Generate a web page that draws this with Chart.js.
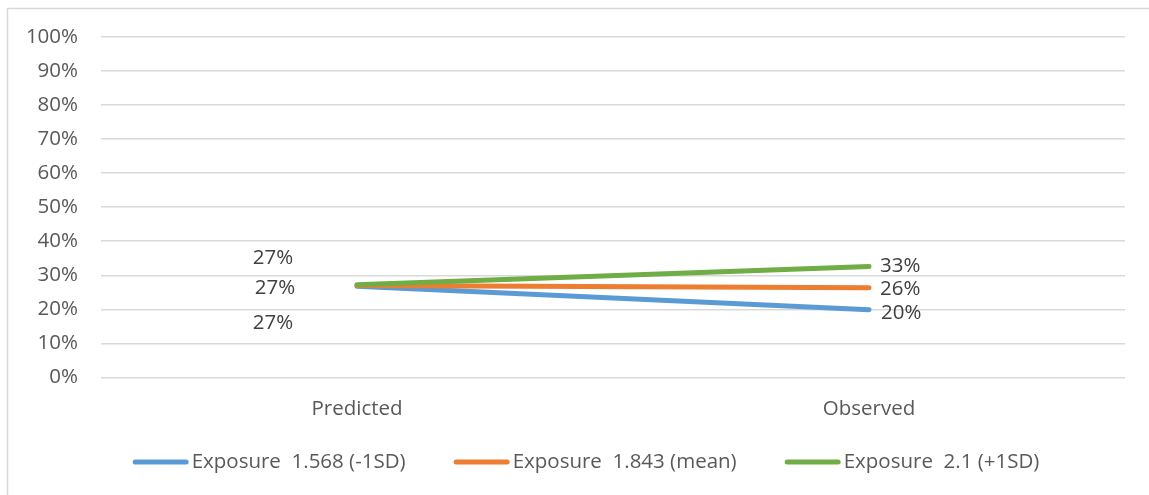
<!DOCTYPE html>
<html>
<head>
<meta charset="utf-8">
<style>
  html, body { margin: 0; padding: 0; background: #ffffff; }
  #wrap { position: relative; width: 1149px; height: 495px; }
</style>
<script src="https://cdn.jsdelivr.net/npm/chart.js@4/dist/chart.umd.min.js"></script>
</head>
<body>
<div id="wrap"><canvas id="chart" width="1149" height="495"></canvas></div>
<script>
// Categories and series values (fractions of 1)
const categories = ['Predicted', 'Observed'];
const lowExposure = [0.268, 0.199];   // Exposure 1.568 (-1SD)
const meanExposure = [0.270, 0.263];  // Exposure 1.843 (mean)
const highExposure = [0.272, 0.326];  // Exposure 2.1 (+1SD)
const seriesNames = ['Exposure  1.568 (-1SD)', 'Exposure  1.843 (mean)', 'Exposure  2.1 (+1SD)'];
const yTickValues = [0, 0.1, 0.2, 0.3, 0.4, 0.5, 0.6, 0.7, 0.8, 0.9, 1.0];

const FONT = '"Open Sans", "Liberation Sans", sans-serif';
const FONT_SIZE = 20.5;
const colors = ['#5B9BD5', '#ED7D31', '#70AD47'];

const pct = v => Math.round(v * 100) + '%';

// Label offsets per dataset for the first and last point
const labelOffsets = [
  [{ dx: -84, dy: 37, align: 'center' }, { dx: 12, dy: 3, align: 'left' }],
  [{ dx: -82, dy: 3, align: 'center' }, { dx: 11, dy: 1, align: 'left' }],
  [{ dx: -84, dy: -27, align: 'center' }, { dx: 11, dy: 0, align: 'left' }]
];

const frame = {
  id: 'frame',
  beforeDraw(chart) {
    const ctx = chart.ctx;
    ctx.save();
    ctx.strokeStyle = '#d9d9d9';
    ctx.lineWidth = 1.5;
    ctx.beginPath();
    ctx.moveTo(7.5, chart.height + 2);
    ctx.lineTo(7.5, 8.5);
    ctx.lineTo(chart.width + 2, 8.5);
    ctx.stroke();
    ctx.restore();
  }
};

const valueLabels = {
  id: 'valueLabels',
  afterDatasetsDraw(chart) {
    const ctx = chart.ctx;
    ctx.save();
    ctx.font = FONT_SIZE + 'px ' + FONT;
    ctx.fillStyle = '#404040';
    ctx.textBaseline = 'middle';
    chart.data.datasets.forEach((ds, di) => {
      const meta = chart.getDatasetMeta(di);
      meta.data.forEach((pt, i) => {
        const off = labelOffsets[di][i];
        ctx.textAlign = off.align;
        ctx.fillText(pct(ds.data[i]), pt.x + off.dx, pt.y + off.dy);
      });
    });
    ctx.restore();
  }
};

const bottomLegend = {
  id: 'bottomLegend',
  afterDraw(chart) {
    const ctx = chart.ctx;
    ctx.save();
    ctx.font = FONT_SIZE + 'px ' + FONT;
    ctx.textBaseline = 'middle';
    const lineLen = 56, gapText = 3, gapItem = 48, y = 462;
    const items = chart.data.datasets.map(ds => ({
      label: ds.label, color: ds.borderColor, w: ctx.measureText(ds.label).width
    }));
    const total = items.reduce((s, it) => s + lineLen + gapText + it.w, 0) + gapItem * (items.length - 1);
    let x = 586 - total / 2;
    items.forEach(it => {
      ctx.strokeStyle = it.color;
      ctx.lineWidth = 5;
      ctx.lineCap = 'round';
      ctx.beginPath();
      ctx.moveTo(x + 2.5, y);
      ctx.lineTo(x + lineLen - 2.5, y);
      ctx.stroke();
      ctx.fillStyle = '#595959';
      ctx.textAlign = 'left';
      ctx.fillText(it.label, x + lineLen + gapText, y);
      x += lineLen + gapText + it.w + gapItem;
    });
    ctx.restore();
  }
};

const makeSeries = (name, values, color, order) => ({
  label: name,
  data: values,
  borderColor: color,
  backgroundColor: color,
  borderWidth: 5,
  borderCapStyle: 'round',
  borderJoinStyle: 'round',
  pointRadius: 0,
  pointHoverRadius: 0,
  tension: 0,
  fill: false,
  order: order
});

new Chart(document.getElementById('chart'), {
  type: 'line',
  data: {
    labels: categories,
    datasets: [
      makeSeries(seriesNames[0], lowExposure, colors[0], 2),
      makeSeries(seriesNames[1], meanExposure, colors[1], 1),
      makeSeries(seriesNames[2], highExposure, colors[2], 0)
    ]
  },
  plugins: [frame, valueLabels, bottomLegend],
  options: {
    responsive: false,
    animation: false,
    devicePixelRatio: 1,
    layout: { padding: { top: 37, right: 24, bottom: 55, left: 0 } },
    plugins: {
      legend: { display: false },
      tooltip: { enabled: false },
      title: { display: false }
    },
    scales: {
      x: {
        offset: true,
        grid: { display: false, drawTicks: false },
        border: { display: false },
        ticks: {
          color: '#595959',
          font: { family: FONT, size: FONT_SIZE },
          padding: 19
        }
      },
      y: {
        min: 0,
        max: 1,
        afterFit(scale) { scale.width = 101; },
        afterBuildTicks(scale) { scale.ticks = yTickValues.map(v => ({ value: v })); },
        grid: { color: '#d9d9d9', lineWidth: 1.5, drawTicks: false },
        border: { display: false },
        ticks: {
          color: '#595959',
          font: { family: FONT, size: FONT_SIZE },
          padding: 23,
          callback: v => pct(v)
        }
      }
    }
  }
});
</script>
</body>
</html>
